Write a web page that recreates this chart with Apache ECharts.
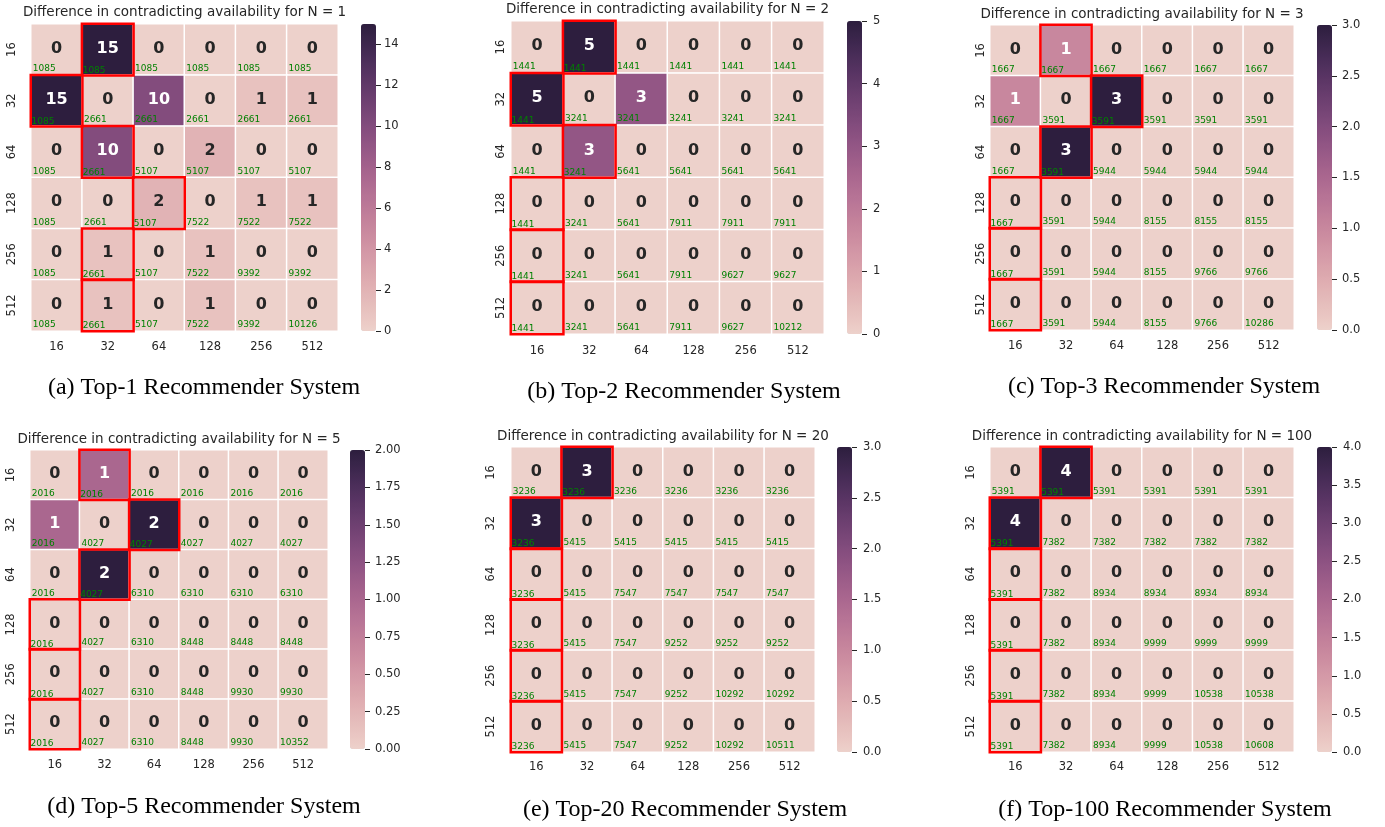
<!DOCTYPE html>
<html><head><meta charset="utf-8">
<script src="https://cdn.jsdelivr.net/npm/echarts@6/dist/echarts.min.js"></script>
<style>html,body{margin:0;padding:0;background:#fff}#c{width:1385px;height:827px}</style>
</head><body><div id="c"></div>
<script>
// ---------- DATA ----------
const sizes = ['16', '32', '64', '128', '256', '512'];

const valuesN1 = [
  [0, 15, 0, 0, 0, 0],
  [15, 0, 10, 0, 1, 1],
  [0, 10, 0, 2, 0, 0],
  [0, 0, 2, 0, 1, 1],
  [0, 1, 0, 1, 0, 0],
  [0, 1, 0, 1, 0, 0]
];
const countsN1 = [
  [1085, 1085, 1085, 1085, 1085, 1085],
  [1085, 2661, 2661, 2661, 2661, 2661],
  [1085, 2661, 5107, 5107, 5107, 5107],
  [1085, 2661, 5107, 7522, 7522, 7522],
  [1085, 2661, 5107, 7522, 9392, 9392],
  [1085, 2661, 5107, 7522, 9392, 10126]
];
const valuesN2 = [
  [0, 5, 0, 0, 0, 0],
  [5, 0, 3, 0, 0, 0],
  [0, 3, 0, 0, 0, 0],
  [0, 0, 0, 0, 0, 0],
  [0, 0, 0, 0, 0, 0],
  [0, 0, 0, 0, 0, 0]
];
const countsN2 = [
  [1441, 1441, 1441, 1441, 1441, 1441],
  [1441, 3241, 3241, 3241, 3241, 3241],
  [1441, 3241, 5641, 5641, 5641, 5641],
  [1441, 3241, 5641, 7911, 7911, 7911],
  [1441, 3241, 5641, 7911, 9627, 9627],
  [1441, 3241, 5641, 7911, 9627, 10212]
];
const valuesN3 = [
  [0, 1, 0, 0, 0, 0],
  [1, 0, 3, 0, 0, 0],
  [0, 3, 0, 0, 0, 0],
  [0, 0, 0, 0, 0, 0],
  [0, 0, 0, 0, 0, 0],
  [0, 0, 0, 0, 0, 0]
];
const countsN3 = [
  [1667, 1667, 1667, 1667, 1667, 1667],
  [1667, 3591, 3591, 3591, 3591, 3591],
  [1667, 3591, 5944, 5944, 5944, 5944],
  [1667, 3591, 5944, 8155, 8155, 8155],
  [1667, 3591, 5944, 8155, 9766, 9766],
  [1667, 3591, 5944, 8155, 9766, 10286]
];
const valuesN5 = [
  [0, 1, 0, 0, 0, 0],
  [1, 0, 2, 0, 0, 0],
  [0, 2, 0, 0, 0, 0],
  [0, 0, 0, 0, 0, 0],
  [0, 0, 0, 0, 0, 0],
  [0, 0, 0, 0, 0, 0]
];
const countsN5 = [
  [2016, 2016, 2016, 2016, 2016, 2016],
  [2016, 4027, 4027, 4027, 4027, 4027],
  [2016, 4027, 6310, 6310, 6310, 6310],
  [2016, 4027, 6310, 8448, 8448, 8448],
  [2016, 4027, 6310, 8448, 9930, 9930],
  [2016, 4027, 6310, 8448, 9930, 10352]
];
const valuesN20 = [
  [0, 3, 0, 0, 0, 0],
  [3, 0, 0, 0, 0, 0],
  [0, 0, 0, 0, 0, 0],
  [0, 0, 0, 0, 0, 0],
  [0, 0, 0, 0, 0, 0],
  [0, 0, 0, 0, 0, 0]
];
const countsN20 = [
  [3236, 3236, 3236, 3236, 3236, 3236],
  [3236, 5415, 5415, 5415, 5415, 5415],
  [3236, 5415, 7547, 7547, 7547, 7547],
  [3236, 5415, 7547, 9252, 9252, 9252],
  [3236, 5415, 7547, 9252, 10292, 10292],
  [3236, 5415, 7547, 9252, 10292, 10511]
];
const valuesN100 = [
  [0, 4, 0, 0, 0, 0],
  [4, 0, 0, 0, 0, 0],
  [0, 0, 0, 0, 0, 0],
  [0, 0, 0, 0, 0, 0],
  [0, 0, 0, 0, 0, 0],
  [0, 0, 0, 0, 0, 0]
];
const countsN100 = [
  [5391, 5391, 5391, 5391, 5391, 5391],
  [5391, 7382, 7382, 7382, 7382, 7382],
  [5391, 7382, 8934, 8934, 8934, 8934],
  [5391, 7382, 8934, 9999, 9999, 9999],
  [5391, 7382, 8934, 9999, 10538, 10538],
  [5391, 7382, 8934, 9999, 10538, 10608]
];

const cbTicksN1 = [0, 2, 4, 6, 8, 10, 12, 14];
const cbTicksN2 = [0, 1, 2, 3, 4, 5];
const cbTicksN3 = [0, 0.5, 1, 1.5, 2, 2.5, 3];
const cbTicksN5 = [0, 0.25, 0.5, 0.75, 1, 1.25, 1.5, 1.75, 2];
const cbTicksN20 = [0, 0.5, 1, 1.5, 2, 2.5, 3];
const cbTicksN100 = [0, 0.5, 1, 1.5, 2, 2.5, 3, 3.5, 4];

const titles = [
  'Difference in contradicting availability for N = 1',
  'Difference in contradicting availability for N = 2',
  'Difference in contradicting availability for N = 3',
  'Difference in contradicting availability for N = 5',
  'Difference in contradicting availability for N = 20',
  'Difference in contradicting availability for N = 100'
];
const captions = [
  '(a) Top-1 Recommender System',
  '(b) Top-2 Recommender System',
  '(c) Top-3 Recommender System',
  '(d) Top-5 Recommender System',
  '(e) Top-20 Recommender System',
  '(f) Top-100 Recommender System'
];

// ---------- LAYOUT / STYLE ----------
const layout = [
  {grid: [31, 24, 307, 307], cb: [361, 24, 15, 307], t: [184.5, 12], c: [204, 388], ym: 13, xm: 10, cm: 8, dec: 0},
  {grid: [511, 21, 313, 313], cb: [847, 21, 15, 313], t: [667.5, 9.5], c: [684, 392], ym: 4, xm: 11, cm: 11, dec: 0},
  {grid: [990, 25, 304, 305], cb: [1317, 25, 15, 305], t: [1142, 14], c: [1164, 387], ym: 3, xm: 10, cm: 10, dec: 1},
  {grid: [30, 450, 298, 299], cb: [350, 450, 15, 299], t: [179, 439], c: [204, 807], ym: 13, xm: 10, cm: 10, dec: 2},
  {grid: [511, 447, 304, 305], cb: [837, 447, 15, 305], t: [663, 436], c: [685, 809.5], ym: 14, xm: 9, cm: 11, dec: 1},
  {grid: [990, 447, 304, 305], cb: [1317, 447, 15, 305], t: [1142, 436], c: [1165, 809.5], ym: 13, xm: 9, cm: 11, dec: 1}
];
const panelValues = [valuesN1, valuesN2, valuesN3, valuesN5, valuesN20, valuesN100];
const panelCounts = [countsN1, countsN2, countsN3, countsN5, countsN20, countsN100];
const panelTicks = [cbTicksN1, cbTicksN2, cbTicksN3, cbTicksN5, cbTicksN20, cbTicksN100];

const FONT = 'DejaVu Sans';
const DARK = '#262626';

// seaborn default cubehelix_palette colormap (light=0.85 -> dark=0.15)
function cubehelix(x) {
  const a = 0.8 * x * (1 - x) / 2, phi = 2 * Math.PI * 0.4 * x;
  const c = Math.cos(phi), s = Math.sin(phi);
  return [
    x + a * (-0.14861 * c + 1.78277 * s),
    x + a * (-0.29227 * c - 0.90649 * s),
    x + a * (1.97294 * c)
  ].map(v => Math.max(0, Math.min(1, v)));
}
function cmap(t) { return cubehelix(0.85 - 0.7 * t); }
function hex(rgb) { return '#' + rgb.map(v => Math.round(v * 255).toString(16).padStart(2, '0')).join(''); }
function lum(rgb) {
  const l = rgb.map(v => v <= 0.03928 ? v / 12.92 : Math.pow((v + 0.055) / 1.055, 2.4));
  return 0.2126 * l[0] + 0.7152 * l[1] + 0.0722 * l[2];
}
const stops = [];
for (let i = 0; i <= 24; i++) stops.push(hex(cmap(i / 24)));

const option = {
  backgroundColor: '#fff',
  animation: false,
  grid: [], xAxis: [], yAxis: [], series: [], visualMap: [], graphic: []
};

layout.forEach((L, p) => {
  const vals = panelValues[p], cnts = panelCounts[p], ticks = panelTicks[p];
  const vmax = Math.max(...vals.flat());
  const step = ticks[1] - ticks[0];
  const lastTick = ticks[ticks.length - 1];
  // the tick axis spans 0..lastTick, placed so its scale matches the colour bar (0..vmax)
  const tickH = L.cb[3] * lastTick / vmax;
  const tickTop = L.cb[1] + L.cb[3] - tickH;
  const gi = option.grid.length;
  option.grid.push({left: L.grid[0], top: L.grid[1], width: L.grid[2], height: L.grid[3], containLabel: false});
  option.grid.push({left: L.cb[0], top: tickTop, width: L.cb[2], height: tickH, containLabel: false});

  option.xAxis.push({
    type: 'category', gridIndex: gi, data: sizes, position: 'bottom',
    axisLine: {show: false}, axisTick: {show: false}, splitLine: {show: false},
    axisLabel: {color: DARK, fontSize: 11.5, fontFamily: FONT, margin: L.xm}
  });
  option.yAxis.push({
    type: 'category', gridIndex: gi, data: sizes, inverse: true,
    axisLine: {show: false}, axisTick: {show: false}, splitLine: {show: false},
    axisLabel: {color: DARK, fontSize: 11.5, fontFamily: FONT, rotate: 90, margin: L.ym}
  });
  option.xAxis.push({type: 'value', gridIndex: gi + 1, show: false, min: 0, max: 1,
    axisLine: {onZero: false}});
  option.yAxis.push({
    type: 'value', gridIndex: gi + 1, position: 'right', min: ticks[0], max: lastTick, interval: step,
    axisLine: {show: true, onZero: false, lineStyle: {color: 'rgba(0,0,0,0)', width: 0}},
    splitLine: {show: false},
    axisTick: {show: true, inside: false, length: 5, lineStyle: {color: DARK, width: 1}},
    axisLabel: {show: true, color: DARK, fontSize: 11.5, fontFamily: FONT, margin: L.cm,
      formatter: v => Number(v).toFixed(L.dec)}
  });

  const mainData = [], cntData = [];
  vals.forEach((row, r) => {
    const rmax = Math.max(...row);
    const arg = row.indexOf(rmax);
    row.forEach((v, c) => {
      const col = cmap(vmax ? v / vmax : 0);
      mainData.push({value: [c, r, v], label: {color: lum(col) > 0.408 ? DARK : '#ffffff'}});
      const isMax = c === arg;
      cntData.push({
        value: [c, r, cnts[r][c]],
        itemStyle: {color: 'rgba(0,0,0,0)', borderColor: isMax ? '#ff0000' : 'rgba(0,0,0,0)', borderWidth: isMax ? 2.5 : 0}
      });
    });
  });
  const si = option.series.length;
  option.series.push({
    type: 'heatmap', xAxisIndex: gi, yAxisIndex: gi, data: mainData,
    itemStyle: {borderColor: '#ffffff', borderWidth: 1.5},
    emphasis: {disabled: true},
    label: {show: true, position: 'inside', fontFamily: FONT, fontWeight: 'bold', fontSize: 16,
      offset: [0, -1], formatter: pr => String(pr.value[2])}
  });
  option.series.push({
    type: 'heatmap', xAxisIndex: gi, yAxisIndex: gi, data: cntData,
    emphasis: {disabled: true}, z: 3,
    label: {show: true, position: 'insideBottomLeft', distance: 2, color: '#008000', fontFamily: FONT, fontSize: 9,
      formatter: pr => String(pr.value[2])}
  });
  option.visualMap.push({
    type: 'continuous', seriesIndex: si, min: 0, max: vmax, calculable: false, show: true,
    orient: 'vertical', left: L.cb[0], top: L.cb[1], itemWidth: L.cb[2], itemHeight: L.cb[3],
    padding: 0, text: null, hoverLink: false, inRange: {color: stops}
  });
  option.graphic.push({
    type: 'text', x: L.t[0], y: L.t[1],
    style: {text: titles[p], fill: DARK, font: '13.5px "DejaVu Sans"', textAlign: 'center', textVerticalAlign: 'middle'}
  });
  option.graphic.push({
    type: 'text', x: L.c[0], y: L.c[1],
    style: {text: captions[p], fill: '#000', font: '24px "Liberation Serif"', textAlign: 'center', textVerticalAlign: 'middle'}
  });
});

const chart = echarts.init(document.getElementById('c'), null, {renderer: 'canvas'});
chart.setOption(option);
</script>
</body></html>
